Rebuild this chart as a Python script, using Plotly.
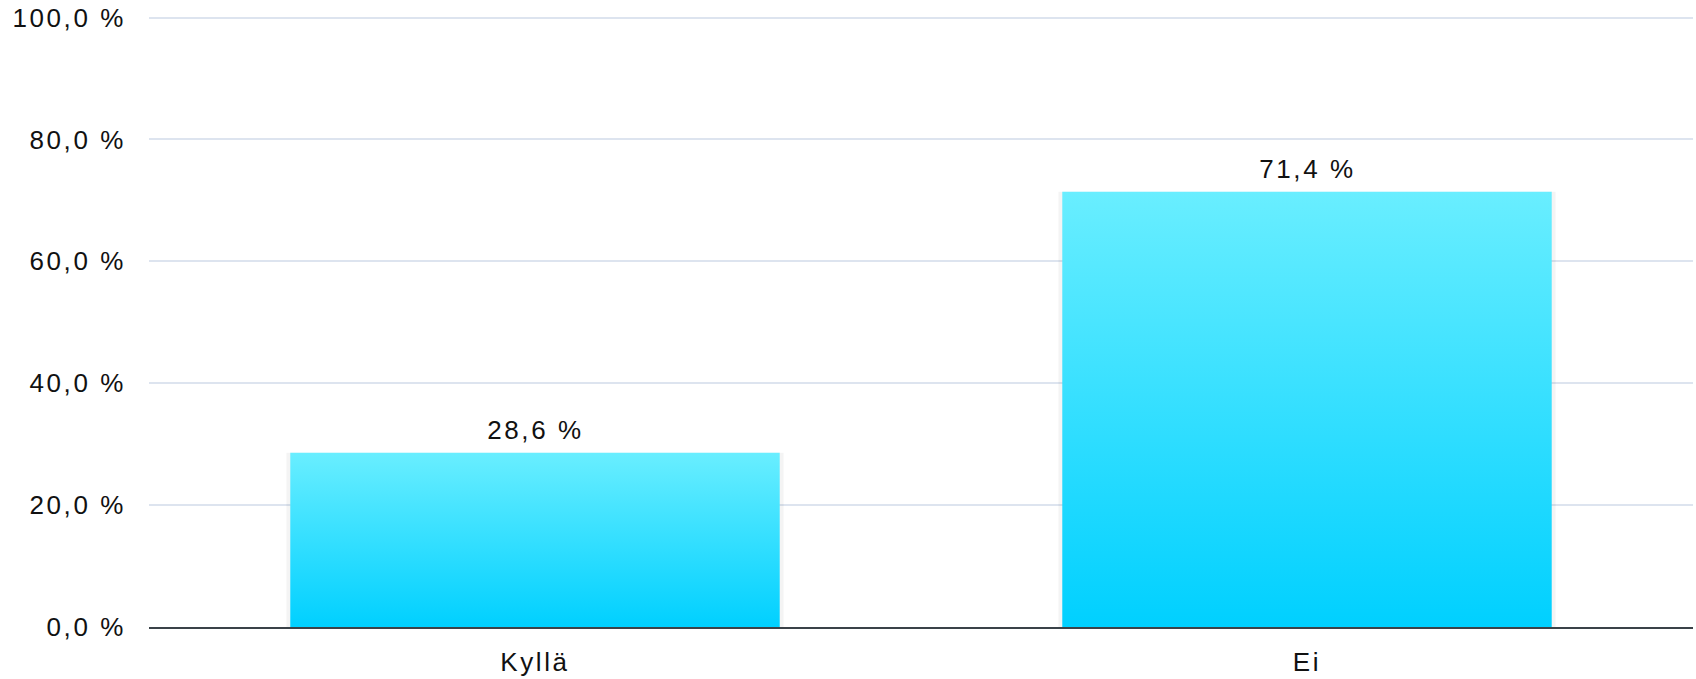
import plotly.graph_objects as go

categories = ["Kyllä", "Ei"]
values = [28.6, 71.4]
value_labels = ["28,6 %", "71,4 %"]
y_tick_values = [0, 20, 40, 60, 80, 100]
y_tick_labels = ["0,0 %", "20,0 %", "40,0 %", "60,0 %", "80,0 %", "100,0 %"]

FONT = "Liberation Sans, Arial, sans-serif"
FONT_SIZE = 26
BAR_HALF = 0.317
SHADOW = 0.005

fig = go.Figure()

for i, (cat, v) in enumerate(zip(categories, values)):
    x0, x1 = i - BAR_HALF, i + BAR_HALF
    # soft shadow behind bar
    fig.add_trace(go.Scatter(
        x=[x0 - SHADOW, x1 + SHADOW, x1 + SHADOW, x0 - SHADOW, x0 - SHADOW],
        y=[0, 0, v, v, 0],
        mode="lines", line=dict(width=0),
        fill="toself", fillcolor="rgba(0,0,0,0.045)",
        hoverinfo="skip", showlegend=False,
    ))
    fig.add_trace(go.Scatter(
        x=[x0, x1, x1, x0, x0],
        y=[0, 0, v, v, 0],
        mode="lines",
        line=dict(width=0),
        fill="toself",
        fillgradient=dict(
            type="vertical",
            colorscale=[[0, "#00d0ff"], [1, "#69eeff"]],
        ),
        hoverinfo="skip",
        showlegend=False,
        name=cat,
    ))
    fig.add_annotation(
        x=i, y=v, text=value_labels[i], showarrow=False,
        yanchor="bottom", yshift=6,
        font=dict(family=FONT, size=FONT_SIZE, color="#111111"),
    )

fig.update_layout(
    width=1696, height=679,
    margin=dict(l=149, r=3, t=16, b=52),
    plot_bgcolor="white", paper_bgcolor="white",
    showlegend=False,
    font=dict(family=FONT, size=FONT_SIZE, color="#111111"),
    xaxis=dict(
        range=[-0.5, 1.5],
        tickvals=list(range(len(categories))),
        ticktext=categories,
        showgrid=False, zeroline=False,
        showline=True, linecolor="#3a4248", linewidth=2,
        ticks="", ticklabelstandoff=11,
        automargin=False,
        fixedrange=True,
    ),
    yaxis=dict(
        range=[0, 100.25],
        tickvals=y_tick_values,
        ticktext=y_tick_labels,
        showgrid=True, gridcolor="#dde4ef", gridwidth=1.5,
        zeroline=False, showline=False,
        ticks="", ticklabelstandoff=22,
        automargin=False,
        fixedrange=True,
    ),
)

post = """
document.documentElement.style.margin = '0';
document.body.style.margin = '0';
document.body.style.overflow = 'hidden';
var gd = document.getElementById('{plot_id}');
function ls(){
  gd.querySelectorAll('.xtick text, .ytick text, .annotation-text').forEach(function(t){
    t.style.letterSpacing = '2.6px';
  });
}
ls();
gd.on('plotly_afterplot', ls);
"""
fig.write_html("out.html", post_script=post, config={"displayModeBar": False})
